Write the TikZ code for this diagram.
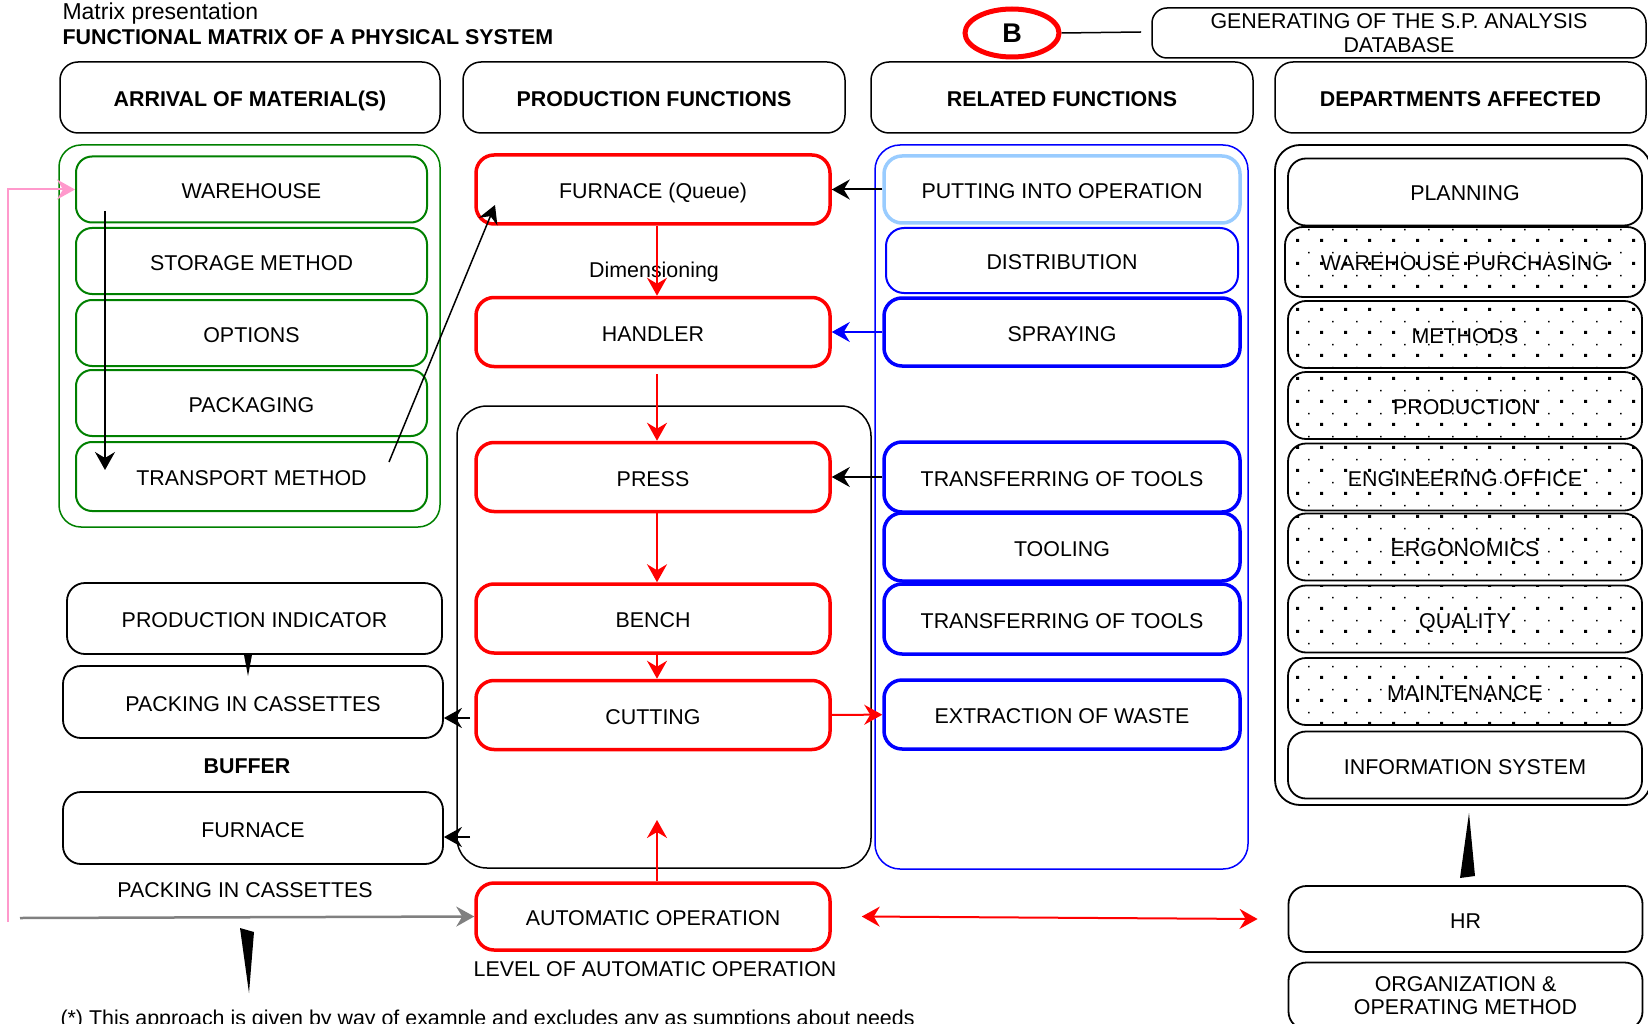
\documentclass[tikz,border=0pt]{standalone}
\usepackage{fontspec}
\setmainfont{Liberation Sans}
\usepackage{tikz}
\usetikzlibrary{arrows.meta,shapes.geometric,patterns}
\definecolor{frgreen}{RGB}{0,128,0}
\definecolor{lightblue}{RGB}{153,204,255}
\definecolor{pinkline}{RGB}{255,153,204}
\newcommand{\boxfont}{\fontsize{21.4}{24}\selectfont}
\pgfdeclarepatternformonly{deptdots}{\pgfqpoint{-1pt}{-1pt}}{\pgfqpoint{25pt}{24pt}}{\pgfqpoint{24pt}{23pt}}{%
  \pgfpathrectangle{\pgfqpoint{0pt}{0pt}}{\pgfqpoint{3pt}{3pt}}%
  \pgfpathrectangle{\pgfqpoint{12pt}{11.5pt}}{\pgfqpoint{1.6pt}{1.6pt}}%
  \pgfusepath{fill}}
\tikzstyle{head} = [draw, rounded corners=18pt, line width=1.5pt, minimum height=71pt, text height=18pt, text depth=0pt, font=\boxfont\bfseries]
\tikzstyle{greenbox} = [draw=frgreen, rounded corners=16pt, line width=2pt, minimum width=351pt, minimum height=66pt, text height=18pt, text depth=0pt]
\tikzstyle{redbox} = [draw=red, rounded corners=18pt, line width=3.5pt, minimum width=354pt, minimum height=69pt, text height=18pt, text depth=0pt]
\tikzstyle{bluebox} = [draw=blue, rounded corners=18pt, line width=3.5pt, minimum width=356pt, minimum height=68pt, text height=18pt, text depth=0pt]
\tikzstyle{deptbox} = [draw, rounded corners=18pt, line width=1.8pt, minimum width=354pt, minimum height=67pt, text height=18pt, text depth=0pt]
\tikzstyle{dotbox} = [deptbox, pattern=deptdots]
\tikzstyle{plainbox} = [draw, rounded corners=18pt, line width=1.8pt, minimum height=71pt, text height=18pt, text depth=0pt]
\tikzstyle{flow} = [->, line width=2pt]

\begin{document}
\begin{tikzpicture}[x=1pt,y=-1pt,every node/.style={font=\boxfont},>={Stealth[length=18pt,width=20pt,inset=6pt]}]
  \useasboundingbox (0,0) rectangle (1648,1024);
  % titles
  \node[anchor=base west,font=\fontsize{23}{26}\selectfont] (title) at (59,20) {Matrix presentation};
  \node[anchor=base west,font=\boxfont\bfseries] (subtitle) at (59,45) {FUNCTIONAL MATRIX OF A PHYSICAL SYSTEM};
  \node[ellipse,draw=red,line width=5pt,minimum width=94pt,minimum height=48pt,font=\fontsize{27}{30}\selectfont\bfseries] (bmark) at (1012,33) {B};
  \node[plainbox,minimum width=494pt,minimum height=50pt,rounded corners=15pt,line width=1.5pt,inner sep=1pt,text height=,text depth=,align=center] (gendb) at (1399,33) {GENERATING OF THE S.P. ANALYSIS\\DATABASE};
  \coordinate (bline) at (1141,32);
  \draw[line width=1.5pt] (bmark.east) -- (bline);
  % column heads
  \node[head,minimum width=380pt] (harr) at (250,97.5) {ARRIVAL OF MATERIAL(S)};
  \node[head,minimum width=382pt] (hprod) at (654,97.5) {PRODUCTION FUNCTIONS};
  \node[head,minimum width=382pt] (hrel) at (1062,97.5) {RELATED FUNCTIONS};
  \node[head,minimum width=371pt] (hdep) at (1460.5,97.5) {DEPARTMENTS AFFECTED};
  % frames
  \draw[frgreen,line width=1.5pt,rounded corners=22pt] (59,145) rectangle (440,527);
  \draw[blue,line width=1.5pt,rounded corners=25pt] (875,145) rectangle (1248,869);
  \draw[line width=1.5pt,rounded corners=30pt] (457,406) rectangle (871,868);
  \draw[line width=1.8pt,rounded corners=25pt] (1275,145) rectangle (1651,805);
  % arrival of materials
  \node[greenbox] (wareh) at (251.5,189.5) {WAREHOUSE};
  \node[greenbox] (storage) at (251.5,261) {STORAGE METHOD};
  \node[greenbox] (options) at (251.5,333) {OPTIONS};
  \node[greenbox] (packag) at (251.5,403) {PACKAGING};
  \node[greenbox,minimum height=69pt] (transport) at (251.5,476.5) {TRANSPORT METHOD};
  % production functions
  \node[redbox] (furnq) at (653,189.5) {FURNACE (Queue)};
  \node[redbox] (handler) at (653,332) {HANDLER};
  \node[redbox] (press) at (653,477) {PRESS};
  \node[redbox] (bench) at (653,618.5) {BENCH};
  \node[redbox] (cutting) at (653,715) {CUTTING};
  \node[redbox,minimum height=67pt] (autoop) at (653,916.5) {AUTOMATIC OPERATION};
  % related functions
  \node[bluebox,draw=lightblue,minimum height=67pt] (putting) at (1062,189.5) {PUTTING INTO OPERATION};
  \node[bluebox,line width=2pt,minimum width=352pt,minimum height=65pt] (distrib) at (1062,260.5) {DISTRIBUTION};
  \node[bluebox] (spraying) at (1062,332) {SPRAYING};
  \node[bluebox,minimum height=70pt] (transfa) at (1062,477) {TRANSFERRING OF TOOLS};
  \node[bluebox] (tooling) at (1062,547) {TOOLING};
  \node[bluebox,minimum height=70pt] (transfb) at (1062,619) {TRANSFERRING OF TOOLS};
  \node[bluebox,minimum height=69pt] (extract) at (1062,714.5) {EXTRACTION OF WASTE};
  % departments
  \node[deptbox] (planning) at (1465,192) {PLANNING};
  \node[dotbox,minimum width=360pt,minimum height=70pt] (whpurch) at (1465,262) {WAREHOUSE PURCHASING};
  \node[dotbox] (methods) at (1465,334.5) {METHODS};
  \node[dotbox] (product) at (1465,405.5) {PRODUCTION};
  \node[dotbox] (engoff) at (1465,477) {ENGINEERING OFFICE};
  \node[dotbox] (ergo) at (1465,547) {ERGONOMICS};
  \node[dotbox] (quality) at (1465,619) {QUALITY};
  \node[dotbox] (maint) at (1465,691.5) {MAINTENANCE};
  \node[deptbox] (infosys) at (1465,765) {INFORMATION SYSTEM};
  \node[deptbox,minimum height=66pt] (hr) at (1465.5,919) {HR};
  \node[deptbox,align=center,inner sep=2pt,text height=,text depth=,font=\fontsize{21.4}{23}\selectfont] (orgop) at (1465.5,996) {ORGANIZATION \&\\OPERATING METHOD};
  % buffer side
  \node[plainbox,minimum width=375pt] (prodind) at (254.5,618.5) {PRODUCTION INDICATOR};
  \node[plainbox,minimum width=380pt,minimum height=72pt] (packcass) at (253,702) {PACKING IN CASSETTES};
  \node[font=\boxfont\bfseries] (buffer) at (247,766) {BUFFER};
  \node[plainbox,minimum width=380pt,minimum height=72pt] (furnbuf) at (253,828) {FURNACE};
  \node (packlbl) at (245,890) {PACKING IN CASSETTES};
  \node (dimlbl) at (654,272) {Dimensioning};
  \node (levellbl) at (655,969) {LEVEL OF AUTOMATIC OPERATION};
  \node[anchor=base west] (footnote) at (57,1025) {(*) This approach is given by way of example and excludes any as sumptions about needs};
  % production flow
  \draw[flow,red] ([xshift=4pt]furnq.south) -- ([xshift=4pt]handler.north);
  \draw[flow,red] ([xshift=4pt,yshift=-6pt]handler.south) -- ([xshift=4pt]press.north);
  \draw[flow,red] ([xshift=4pt]press.south) -- ([xshift=4pt]bench.north);
  \draw[flow,red] ([xshift=4pt]bench.south) -- ([xshift=4pt]cutting.north);
  \coordinate (autotip) at (657,820);
  \draw[flow,red] ([xshift=4pt]autoop.north) -- (autotip);
  \draw[flow,red] (cutting) -- (extract);
  \draw[<->,line width=2pt,red] ([xshift=30pt]autoop.east) -- ([xshift=-30pt]hr.west);
  \draw[flow] (putting) -- (furnq);
  \draw[flow,blue] (spraying) -- (handler);
  \draw[flow] (transfa) -- (press);
  \coordinate (cutout) at (470,718);
  \draw[flow] (cutout) -- (packcass.east |- cutout);
  \coordinate (bufout) at (470,837);
  \draw[flow] (bufout) -- (furnbuf.east |- bufout);
  % material flow
  \coordinate (trout) at (389,462);
  \coordinate (fqin) at (495,205);
  \draw[flow,line width=1.5pt] (trout) -- (fqin);
  \coordinate (whout) at (105,211);
  \coordinate (trin) at (105,470);
  \draw[flow] (whout) -- (trin);
  \coordinate (pinkfoot) at (8,922);
  \draw[flow,pinkline] (pinkfoot) |- (wareh.west);
  \coordinate (grayfoot) at (20,918);
  \draw[flow,gray,line width=2.5pt] (grayfoot) -- (autoop.west);
  % wedges
  \fill (244,0 |- prodind.south) -- (252,0 |- prodind.south) -- (248,676) -- cycle;
  \fill (240,928) -- (254,932) -- (249,993) -- cycle;
  \fill (1460,878) -- (1475,876) -- (1469,813) -- cycle;
\end{tikzpicture}
\end{document}
